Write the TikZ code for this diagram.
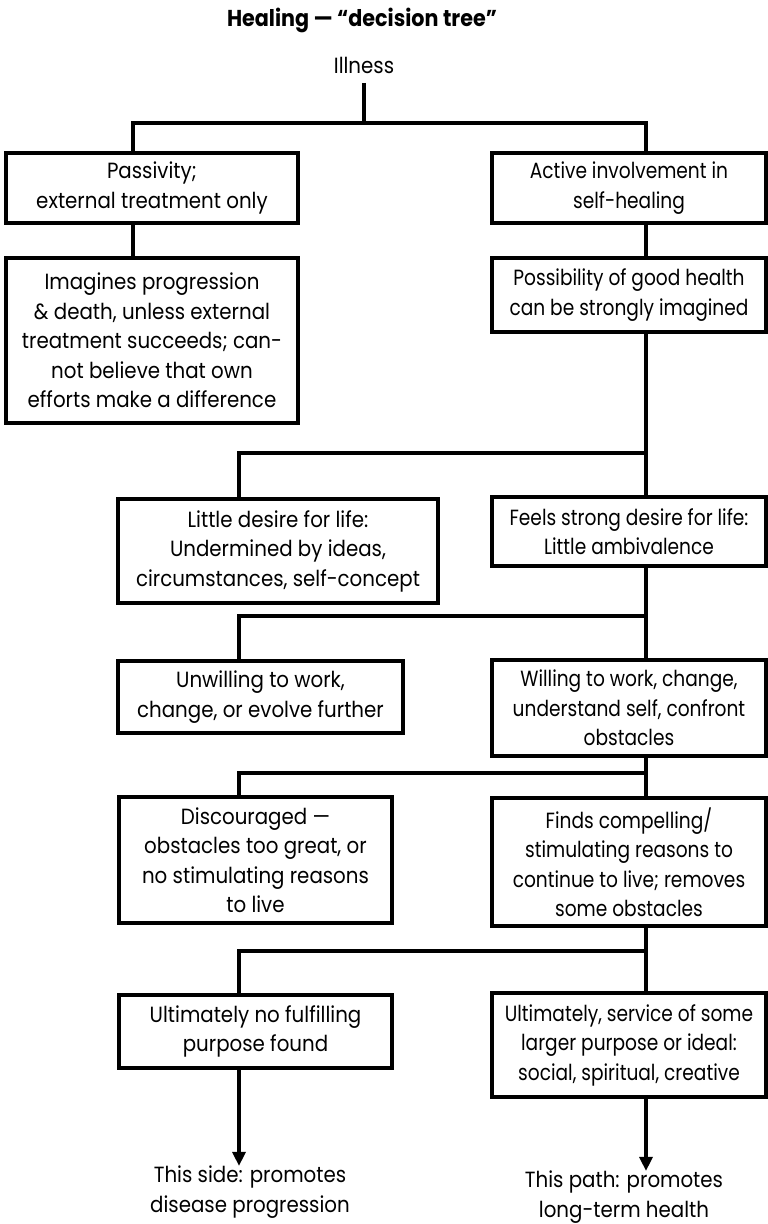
\documentclass[tikz,border=0pt]{standalone}
\usepackage{fontspec}
\setmainfont[FakeStretch=0.9]{Poppins}
\newfontfamily\rfont[FakeStretch=0.845]{Poppins}
\newcommand\boxsize{\fontsize{22}{29.5}\selectfont}
\usetikzlibrary{positioning, calc, arrows.meta}

\begin{document}
\begin{tikzpicture}[x=1pt,y=-1pt,line width=3.2pt,
    every node/.style={inner sep=0,outer sep=0,align=center,font=\boxsize},
    box/.style={draw,anchor=north west},
    rbox/.style={box,font=\rfont\boxsize,minimum width=274pt}]
      \useasboundingbox(0,0) rectangle (768,1224);

      \node(title) at (362,20) {\fontsize{23}{26}\selectfont\bfseries Healing — “decision tree”};
      \node(ill) at (364,68) {Illness\strut};

      % left column
      \node(pass)[box,minimum width=292pt,minimum height=70pt] at (6,153)
        {Passivity;\\external treatment only};
      \node(imag)[box,minimum width=292pt,minimum height=165pt] at (6,258)
        {Imagines progression\\\& death, unless external\\treatment succeeds; can-\\not believe that own\\efforts make a difference};
      \node(desire)[box,minimum width=320pt,minimum height=104pt] at (118,499)
        {Little desire for life:\\Undermined by ideas,\\circumstances, self-concept};
      \node(unw)[box,minimum width=285pt,minimum height=72pt] at (118,661)
        {Unwilling to work,\\change, or evolve further};
      \node(disc)[box,minimum width=273pt,minimum height=126pt] at (119,797)
        {Discouraged —\\obstacles too great, or\\no stimulating reasons\\to live};
      \node(nopurp)[box,minimum width=273pt,minimum height=73pt] at (119,995)
        {Ultimately no fulfilling\\purpose found};

      % right column
      \node(act)[rbox,minimum height=70pt] at (492,153)
        {Active involvement in\\self-healing};
      \node(poss)[rbox,minimum height=74pt] at (492,258)
        {Possibility of good health\\can be strongly imagined};
      \node(feel)[rbox,minimum height=69pt] at (492,497)
        {Feels strong desire for life:\\Little ambivalence};
      \node(will)[rbox,minimum height=96pt] at (492,660)
        {Willing to work, change,\\understand self, confront\\obstacles};
      \node(finds)[rbox,minimum height=128pt] at (492,798)
        {Finds compelling/\\stimulating reasons to\\continue to live; removes\\some obstacles};
      \node(serv)[rbox,minimum height=104pt] at (492,993)
        {Ultimately, service of some\\larger purpose or ideal:\\social, spiritual, creative};

      \node(side) at (250,1192) {This side: promotes\\disease progression};
      \node(path) at (624,1197) {This path: promotes\\long-term health};

      % junctions
      \coordinate(a1) at (133,123);
      \coordinate(b1) at (646,123);
      \coordinate(a2) at (239,453);
      \coordinate(b2) at (646,453);
      \coordinate(a3) at (239,616);
      \coordinate(b3) at (646,616);
      \coordinate(a4) at (239,773);
      \coordinate(b4) at (646,773);
      \coordinate(a5) at (239,951);
      \coordinate(b5) at (646,951);

      \draw(ill.south)--(ill.south |- a1);
      \draw(pass.north -| a1)--(a1)--(b1)--(act.north -| b1);
      \draw(pass.south -| a1)--(imag.north -| a1);

      \draw(act.south -| b1)--(poss.north -| b1);
      \draw(poss.south -| b1)--(feel.north -| b1);
      \draw(feel.south -| b1)--(will.north -| b1);
      \draw(will.south -| b1)--(finds.north -| b1);
      \draw(finds.south -| b1)--(serv.north -| b1);

      \draw(b2)--(a2)--(desire.north -| a2);
      \draw(b3)--(a3)--(unw.north -| a3);
      \draw(b4)--(a4)--(disc.north -| a4);
      \draw(b5)--(a5)--(nopurp.north -| a5);

      \draw[-{Triangle[width=13pt,length=14pt]}](nopurp.south -| a5)--(side.north -| a5);
      \draw[-{Triangle[width=13pt,length=14pt]}](serv.south -| b1)--(path.north -| b1);
    \end{tikzpicture}
\end{document}
